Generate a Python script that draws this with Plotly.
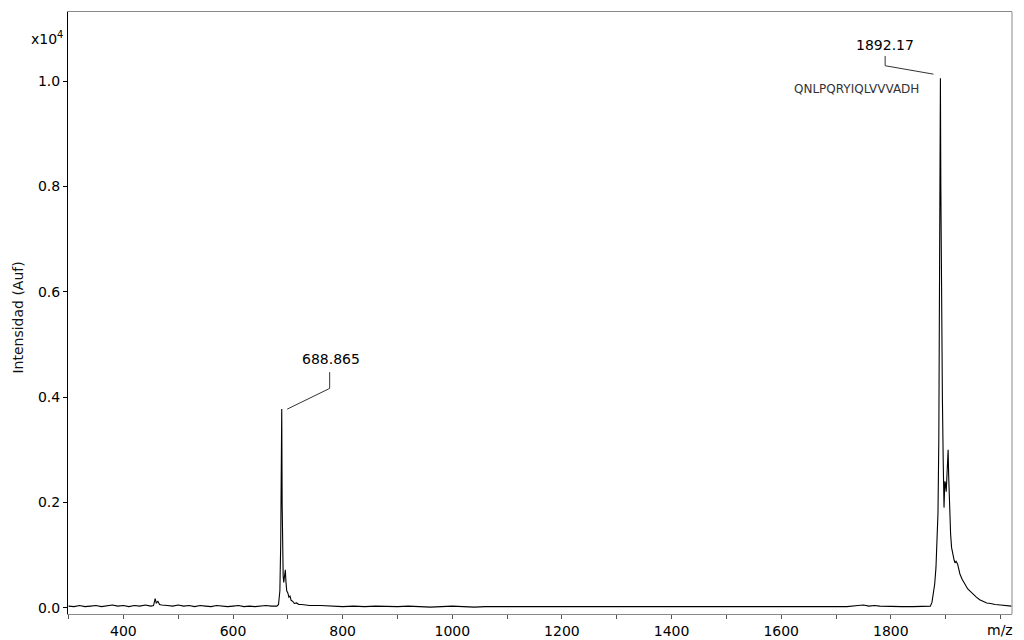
import plotly.graph_objects as go

# ---- data (m/z, intensity in units of 10^4) ----
mz_low = [300, 310, 320, 330, 340, 350, 360, 370, 380, 390, 400, 410, 420, 430, 440, 450,
          455, 458, 460, 463, 466, 470, 475,
          480, 490, 500, 510, 520, 530, 540, 550, 560, 570, 580, 590, 600, 610, 620, 630, 640, 650, 660, 670]
int_low = [0.003, 0.002, 0.004, 0.002, 0.003, 0.004, 0.002, 0.003, 0.005, 0.003, 0.004, 0.002, 0.004, 0.003, 0.005, 0.003,
           0.004, 0.017, 0.009, 0.012, 0.006, 0.005, 0.004,
           0.004, 0.003, 0.005, 0.003, 0.004, 0.002, 0.004, 0.003, 0.002, 0.004, 0.003, 0.002, 0.003, 0.004, 0.002, 0.003, 0.002, 0.003, 0.004, 0.003]

mz_p1 = [680, 683, 685.5, 687, 688.2, 688.9, 689.6, 690.2, 691.5, 692.5, 694, 695.5, 696.5, 698,
         700, 702, 704, 706, 709, 712, 716, 720, 725, 730, 740]
int_p1 = [0.003, 0.006, 0.032, 0.12, 0.30, 0.377, 0.20, 0.076, 0.06, 0.048, 0.06, 0.072, 0.05, 0.032,
          0.028, 0.02, 0.022, 0.014, 0.012, 0.008, 0.009, 0.006, 0.006, 0.005, 0.004]

mz_mid = [760, 780, 800, 820, 840, 860, 880, 900, 920, 940, 960, 980, 1000, 1020, 1040, 1060, 1080, 1100,
          1120, 1140, 1160, 1180, 1200, 1220, 1240, 1260, 1280, 1300, 1320, 1340, 1360, 1380, 1400, 1420,
          1440, 1460, 1480, 1500, 1520, 1540, 1560, 1580, 1600, 1620, 1640, 1660, 1680, 1700, 1720, 1740,
          1750, 1760, 1770, 1780, 1800, 1820, 1840, 1860]
int_mid = [0.004, 0.003, 0.002, 0.003, 0.002, 0.003, 0.002, 0.002, 0.003, 0.002, 0.001, 0.002, 0.003, 0.002,
           0.001, 0.002, 0.002, 0.001, 0.002, 0.001, 0.002, 0.002, 0.001, 0.002, 0.001, 0.002, 0.001, 0.002,
           0.002, 0.001, 0.002, 0.001, 0.002, 0.001, 0.002, 0.002, 0.001, 0.002, 0.001, 0.002, 0.002, 0.001,
           0.002, 0.001, 0.002, 0.002, 0.001, 0.002, 0.002, 0.004, 0.005, 0.003, 0.004, 0.003, 0.002, 0.002,
           0.002, 0.002]

mz_p2 = [1866, 1872, 1875, 1878, 1880, 1882.3, 1884, 1886, 1887.5, 1888.5, 1889.3, 1890.4, 1891.2, 1892.2,
         1894, 1895.5, 1897, 1898.5, 1899.6, 1901, 1902.5, 1904.5, 1905.5, 1907, 1909, 1910.8, 1913, 1915.5,
         1917, 1919, 1921.7, 1924, 1926, 1930, 1935, 1940, 1944, 1950, 1956, 1962, 1968, 1975, 1982, 1990,
         2000, 2010, 2020]
int_p2 = [0.002, 0.003, 0.01, 0.027, 0.045, 0.076, 0.12, 0.18, 0.32, 0.51, 0.62, 1.005, 0.80, 0.585,
          0.40, 0.28, 0.19, 0.24, 0.236, 0.22, 0.26, 0.30, 0.25, 0.19, 0.14, 0.114, 0.10, 0.09,
          0.085, 0.088, 0.083, 0.07, 0.064, 0.054, 0.045, 0.036, 0.032, 0.025, 0.02, 0.015, 0.012, 0.009,
          0.008, 0.006, 0.005, 0.004, 0.003]

mz = mz_low + mz_p1 + mz_mid + mz_p2
intensity = int_low + int_p1 + int_mid + int_p2

x_tickvals = [300, 400, 500, 600, 700, 800, 900, 1000, 1100, 1200, 1300, 1400, 1500, 1600, 1700, 1800, 1900, 2000]
x_ticktext = [" ", "400", " ", "600", " ", "800", " ", "1000", " ", "1200", " ", "1400", " ", "1600", " ", "1800", " ", " "]
y_tickvals = [0.0, 0.2, 0.4, 0.6, 0.8, 1.0]

peak_labels = ["688.865", "1892.17"]
peak_mz = [688.9, 1890.4]
peak_int = [0.377, 1.005]
sequence_label = "QNLPQRYIQLVVVADH"

FONT = "DejaVu Sans"

fig = go.Figure()
fig.add_trace(go.Scatter(x=mz, y=intensity, mode="lines",
                         line=dict(color="black", width=1.1), hoverinfo="skip"))

# leader lines and labels (offsets from each peak in data units)
leaders = [
    [(peak_mz[0] + 10.0, peak_int[0]), (peak_mz[0] + 87.4, peak_int[0] + 0.0393),
     (peak_mz[0] + 87.4, peak_int[0] + 0.0702)],
    [(peak_mz[1] - 12.7, peak_int[1] + 0.008), (peak_mz[1] - 100.8, peak_int[1] + 0.024),
     (peak_mz[1] - 100.8, peak_int[1] + 0.0425)],
]
label_pos = [(peak_mz[0] + 90.7, peak_int[0] + 0.095), (peak_mz[1] - 100.8, peak_int[1] + 0.063)]

for pts in leaders:
    for (x0, y0), (x1, y1) in zip(pts[:-1], pts[1:]):
        fig.add_shape(type="line", x0=x0, y0=y0, x1=x1, y1=y1, xref="x", yref="y",
                      line=dict(color="#333333", width=1))

for txt, (lx, ly) in zip(peak_labels, label_pos):
    fig.add_annotation(x=lx, y=ly, xref="x", yref="y", text=txt, showarrow=False,
                       font=dict(family=FONT, size=14, color="black"))

fig.add_annotation(x=peak_mz[1] - 153, y=peak_int[1] - 0.02, xref="x", yref="y", text=sequence_label,
                   showarrow=False, font=dict(family=FONT, size=12, color="#333333"))

# right frame line
fig.add_shape(type="line", xref="paper", yref="paper", x0=1, x1=1, y0=0, y1=1,
              line=dict(color="#888888", width=1))

fig.add_annotation(xref="paper", yref="paper", x=0, xanchor="right", xshift=-3,
                   y=0.958, yshift=10, text="x10<sup>4</sup>",
                   showarrow=False, font=dict(family=FONT, size=14, color="black"))
fig.add_annotation(xref="paper", yref="paper", x=-0.064, y=0.4917, text="Intensidad (Auf)",
                   textangle=-90, showarrow=False, font=dict(family=FONT, size=14, color="#111111"))
fig.add_annotation(xref="paper", yref="paper", x=1, xanchor="right", xshift=3,
                   y=0, yshift=-26, text="m/z",
                   showarrow=False, font=dict(family=FONT, size=14, color="black"))

# page body has an 8px margin, so the figure is sized to fit inside the window
fig.update_layout(
    width=1016, height=632,
    margin=dict(l=60, r=12, t=4, b=26, autoexpand=False),
    plot_bgcolor="white", paper_bgcolor="white",
    showlegend=False,
    font=dict(family=FONT, size=14, color="black"),
    xaxis=dict(range=[299, 2021], tickvals=x_tickvals, ticktext=x_ticktext,
               ticks="outside", ticklen=4, tickcolor="#555555",
               showline=True, linecolor="#888888", linewidth=1, mirror=True,
               showgrid=False, zeroline=False, automargin=False),
    yaxis=dict(range=[-0.012, 1.131], tickvals=y_tickvals, tickformat=".1f",
               ticks="outside", ticklen=4, tickcolor="black",
               showline=True, linecolor="black", linewidth=1,
               showgrid=False, zeroline=False, automargin=False),
)

fig.write_html("out.html")
